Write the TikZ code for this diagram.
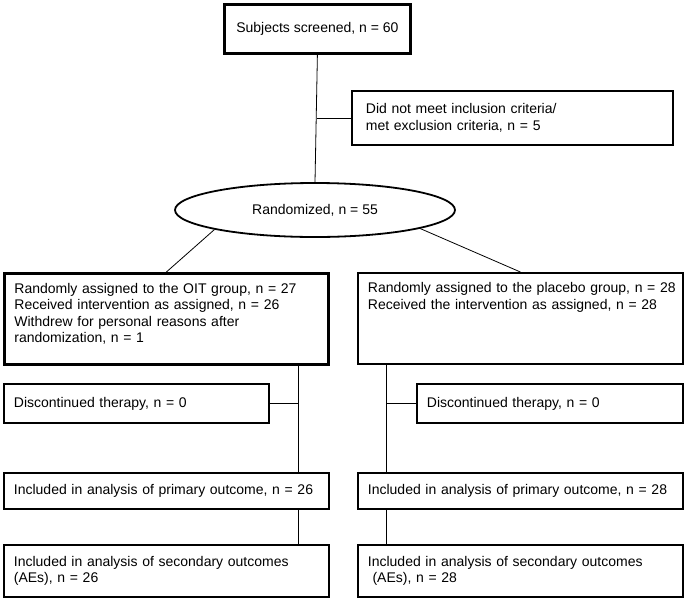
\documentclass[tikz,border=0pt]{standalone}
\usepackage{fontspec}
\setmainfont{Liberation Sans}
\usepackage{tikz}
\tikzstyle{box} = [rectangle, draw, line width=1.8pt, anchor=north west,
    inner xsep=10pt, inner ysep=0pt, align=left,
    font=\fontsize{14pt}{16.5pt}\selectfont]
\tikzstyle{thickbox} = [box, line width=2.8pt]
\tikzstyle{armbox} = [box, text height=20pt, text depth=71pt]
\tikzstyle{cloud} = [ellipse, draw, line width=1.8pt, inner sep=0pt,
    minimum width=280pt, minimum height=54pt,
    font=\fontsize{14pt}{16.5pt}\selectfont]
\tikzstyle{line} = [draw, line width=0.8pt]
\usetikzlibrary{shapes.geometric}

\begin{document}
\begin{tikzpicture}[x=1pt, y=-1pt]
    \useasboundingbox (0,0) rectangle (685,600);
    % Place nodes
    \node [thickbox, align=center, inner xsep=0pt, minimum width=186pt, minimum height=49pt] (screen) at (223,3) {Subjects screened, n = 60};
    \node [box, inner xsep=14pt, text width=293pt, minimum height=54pt] (excl) at (351,90) {Did not meet inclusion criteria/\\met exclusion criteria, n = 5};
    \node [cloud] (rand) at (315,210) {Randomized, n = 55};
    \node [armbox, line width=2.8pt, text width=304pt] (oit) at (3,272) {Randomly assigned to the OIT group, n = 27\\Received intervention as assigned, n = 26\\Withdrew for personal reasons after\\randomization, n = 1};
    \node [armbox, text width=305pt] (plac) at (357,272) {\mbox{Randomly assigned to the placebo group, n = 28}\\Received the intervention as assigned, n = 28};
    \node [box, text width=245pt, minimum height=39pt] (disc1) at (3,383) {Discontinued therapy, n = 0};
    \node [box, text width=246pt, minimum height=39pt] (disc2) at (416,383) {Discontinued therapy, n = 0};
    \node [box, text width=305pt, minimum height=36pt] (prim1) at (3,472) {Included in analysis of primary outcome, n = 26};
    \node [box, text width=305pt, minimum height=36pt] (prim2) at (357,472) {Included in analysis of primary outcome, n = 28};
    \node [box, text width=305pt, minimum height=52pt] (sec1) at (3,544) {Included in analysis of secondary outcomes\\(AEs), n = 26};
    \node [box, text width=305pt, minimum height=52pt] (sec2) at (357,544) {Included in analysis of secondary outcomes\\\ (AEs), n = 28};
    \coordinate (lx) at (298,0);
    \coordinate (rx) at (386,0);
    % Draw edges
    \path [line] (screen.south) -- (rand.north);
    \path [line] (excl.west) -- (excl.west -| screen.south);
    \path [line] (rand.191) -- (oit.north);
    \path [line] (rand.-10) -- (plac.north);
    \path [line] (oit.south -| lx) -- (prim1.north -| lx);
    \path [line] (disc1.east) -- (disc1.east -| lx);
    \path [line] (prim1.south -| lx) -- (sec1.north -| lx);
    \path [line] (plac.south -| rx) -- (prim2.north -| rx);
    \path [line] (disc2.west) -- (disc2.west -| rx);
    \path [line] (prim2.south -| rx) -- (sec2.north -| rx);
\end{tikzpicture}
\end{document}
